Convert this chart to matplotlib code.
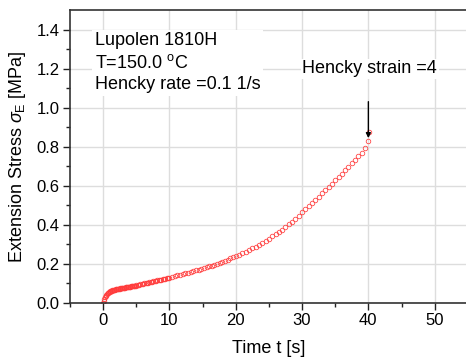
import matplotlib
matplotlib.use("Agg")
import matplotlib.pyplot as plt

plt.rcParams["font.family"] = ["Liberation Sans", "DejaVu Sans"]
plt.rcParams["mathtext.fontset"] = "custom"
plt.rcParams["mathtext.rm"] = "Liberation Sans"
plt.rcParams["mathtext.it"] = "Liberation Sans:italic"

# data: time [s] and extension stress [MPa]
time = [0.0, 0.1, 0.2, 0.3, 0.4, 0.5, 0.6, 0.7, 0.8, 0.9, 1.0,
        1.1, 1.2, 1.3, 1.4, 1.5, 1.6, 1.7, 1.8, 1.9, 2.0,
        2.1, 2.2, 2.3, 2.4, 2.5, 2.6, 2.7, 2.8, 2.9, 3.0,
        3.1, 3.2, 3.3, 3.4, 3.5, 3.6, 3.7, 3.8, 3.9, 4.0,
        4.1, 4.2, 4.3, 4.4, 4.5, 4.6, 4.7, 4.8, 4.9, 5.0,
        5.2, 5.4, 5.6, 5.8, 6.0, 6.2, 6.4, 6.6, 6.8, 7.0, 7.2, 7.4, 7.6,
        7.8, 8.0, 8.2, 8.4, 8.6, 8.8, 9.0, 9.2, 9.4, 9.6, 9.8, 10.0,
        10.4, 10.8, 11.2, 11.6, 12.0, 12.4, 12.8, 13.2, 13.6, 14.0, 14.4,
        14.8, 15.2, 15.6, 16.0, 16.4, 16.8, 17.2, 17.6, 18.0, 18.4, 18.8,
        19.2, 19.6, 20.0,
        20.5, 21.0, 21.5, 22.0, 22.5, 23.0, 23.5, 24.0, 24.5, 25.0,
        25.5, 26.0, 26.5, 27.0, 27.5, 28.0, 28.5, 29.0, 29.5, 30.0,
        30.5, 31.0, 31.5, 32.0, 32.5, 33.0, 33.5, 34.0, 34.5, 35.0,
        35.5, 36.0, 36.5, 37.0, 37.5, 38.0, 38.5, 39.0, 39.5, 40.0, 40.1]
stress = [0.0, 0.012, 0.022, 0.030, 0.036, 0.041, 0.045, 0.049, 0.052, 0.055, 0.058,
          0.060, 0.062, 0.063, 0.065, 0.066, 0.067, 0.068, 0.069, 0.070, 0.071,
          0.072, 0.072, 0.073, 0.074, 0.074, 0.075, 0.076, 0.076, 0.077, 0.078,
          0.078, 0.079, 0.079, 0.080, 0.081, 0.081, 0.082, 0.082, 0.083, 0.084,
          0.084, 0.085, 0.085, 0.086, 0.087, 0.087, 0.088, 0.088, 0.089, 0.090,
          0.092, 0.093, 0.095, 0.096, 0.098, 0.100, 0.101, 0.103, 0.104, 0.106,
          0.108, 0.109, 0.111, 0.112, 0.114, 0.116, 0.117, 0.119, 0.120, 0.122,
          0.124, 0.125, 0.127, 0.128, 0.130,
          0.134, 0.137, 0.141, 0.144, 0.148, 0.152, 0.155, 0.159, 0.163, 0.167,
          0.171, 0.175, 0.179, 0.183, 0.188, 0.192, 0.197, 0.201, 0.206, 0.211,
          0.217, 0.222, 0.228, 0.234, 0.240,
          0.247, 0.255, 0.263, 0.271, 0.280, 0.289, 0.299, 0.309, 0.319, 0.330,
          0.341, 0.352, 0.364, 0.376, 0.389, 0.402, 0.416, 0.430, 0.447, 0.465,
          0.481, 0.497, 0.513, 0.529, 0.545, 0.562, 0.578, 0.595, 0.611, 0.628,
          0.645, 0.662, 0.680, 0.697, 0.715, 0.733, 0.751, 0.770, 0.795, 0.830, 0.877]

info_lines = ["Lupolen 1810H", r"T=150.0 $^{\mathrm{o}}$C", "Hencky rate =0.1 1/s"]
strain_label = "Hencky strain =4"

fig = plt.figure(figsize=(4.66, 3.58), dpi=100)
ax = fig.add_axes([0.150, 0.1536, 0.854, 0.8184])

ax.plot(time, stress, linestyle="none", marker="o", markersize=3.3,
        markerfacecolor="none", markeredgecolor="#ff3c3c", markeredgewidth=0.55)

ax.set_xlim(-5, 55)
ax.set_ylim(0, 1.5)
ax.set_xticks([0, 10, 20, 30, 40, 50])
ax.set_xticks(range(-5, 56, 10), minor=True)
ax.set_yticks([0.0, 0.2, 0.4, 0.6, 0.8, 1.0, 1.2, 1.4])
ax.set_yticks([0.1, 0.3, 0.5, 0.7, 0.9, 1.1, 1.3], minor=True)
ax.set_yticklabels(["0.0", "0.2", "0.4", "0.6", "0.8", "1.0", "1.2", "1.4"])
ax.tick_params(which="both", direction="out", labelsize=12, width=1, color="#222222")
ax.tick_params(which="major", length=5, pad=2.5)
ax.tick_params(which="minor", length=3)
ax.grid(True, color="#dddddd", linewidth=1)
ax.set_axisbelow(True)
for s in ax.spines.values():
    s.set_color("#333333")
    s.set_linewidth(1.2)

ax.set_xlabel("Time t [s]", fontsize=13, labelpad=8)
ax.set_ylabel(r"Extension Stress $\sigma_{\mathrm{E}}$ [MPa]", fontsize=13, labelpad=6)

ax.text(-1.2, 1.385, "\n".join(info_lines), fontsize=13, va="top", ha="left",
        linespacing=1.33,
        bbox=dict(facecolor="white", edgecolor="none", pad=2))

ax.annotate("", xy=(40, 0.83), xytext=(40, 1.045),
            arrowprops=dict(arrowstyle="-|>", color="black", lw=1, mutation_scale=7))
ax.text(40.2, 1.2, strain_label, fontsize=13, ha="center", va="center",
        bbox=dict(facecolor="white", edgecolor="none", pad=1))

fig.savefig("out.png", dpi=100)
